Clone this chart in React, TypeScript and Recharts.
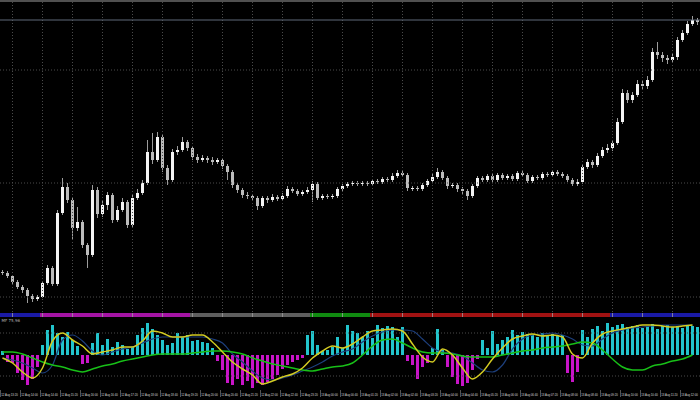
import React from 'react';
import { ComposedChart, Bar, Line, XAxis, YAxis, ReferenceLine, Cell } from 'recharts';

// ---- price candles (10-minute bars) ----
const firstOpen = 38;
const closes = [
  37, 34, 28, 23, 20, 14, 11, 13, 27, 42,
  26, 97, 123, 110, 82, 88, 65, 55, 120, 96,
  105, 115, 90, 100, 108, 85, 112, 117, 127, 158,
  150, 173, 142, 130, 158, 160, 168, 162, 153, 150,
  152, 150, 148, 150, 144, 138, 125, 120, 115, 114,
  112, 104, 112, 110, 113, 111, 114, 121, 119, 116,
  118, 120, 126, 112, 114, 113, 114, 121, 124, 126,
  127, 126, 127, 126, 129, 128, 131, 130, 134, 137,
  135, 122, 122, 121, 125, 129, 133, 138, 132, 124,
  125, 121, 119, 114, 124, 132, 130, 134, 130, 135,
  132, 134, 131, 137, 135, 129, 133, 132, 136, 135,
  138, 136, 134, 130, 126, 128, 143, 148, 145, 154,
  160, 162, 167, 188, 217, 210, 215, 226, 224, 230,
  258, 255, 252, 250, 253, 270, 277, 286, 290, 288,
];
const highs = [
  40, 39, 35, 30, 25, 22, 16, 15, 29, 45,
  44, 100, 132, 127, 112, 103, 90, 67, 125, 123,
  110, 118, 117, 104, 112, 110, 115, 121, 130, 170,
  177, 178, 175, 145, 161, 164, 173, 170, 164, 156,
  155, 154, 153, 152, 152, 146, 140, 127, 122, 118,
  116, 114, 114, 114, 116, 115, 117, 124, 123, 121,
  120, 123, 129, 128, 116, 116, 116, 123, 126, 128,
  129, 129, 129, 129, 131, 131, 133, 133, 137, 140,
  139, 137, 124, 124, 127, 131, 136, 142, 140, 134,
  127, 127, 123, 121, 126, 134, 134, 136, 136, 137,
  137, 136, 136, 139, 139, 137, 135, 135, 138, 138,
  140, 140, 138, 136, 132, 131, 146, 151, 150, 157,
  163, 166, 170, 192, 221, 220, 218, 230, 229, 234,
  262, 268, 258, 255, 256, 273, 280, 289, 294, 292,
];
const lows = [
  35, 32, 26, 21, 17, 7, 8, 9, 12, 25,
  24, 24, 95, 107, 70, 79, 62, 42, 53, 92,
  93, 100, 87, 88, 98, 82, 83, 110, 115, 125,
  146, 148, 138, 125, 128, 155, 158, 159, 150, 147,
  148, 147, 145, 146, 141, 130, 122, 117, 112, 111,
  109, 100, 102, 107, 108, 109, 109, 112, 117, 114,
  114, 116, 108, 110, 110, 111, 111, 112, 119, 122,
  124, 124, 124, 124, 124, 126, 126, 128, 128, 132,
  133, 119, 119, 119, 119, 123, 127, 131, 130, 121,
  122, 118, 116, 110, 112, 122, 128, 128, 128, 128,
  130, 130, 129, 129, 133, 127, 127, 130, 130, 133,
  133, 134, 132, 128, 124, 124, 126, 141, 142, 143,
  152, 157, 159, 165, 186, 207, 207, 213, 221, 221,
  228, 251, 248, 246, 247, 250, 268, 275, 284, 285,
];
const bidPrice = 290;
const priceGridLevels = [13, 127, 240];
const hourGridBars = [2, 8, 14, 20, 26, 32, 38, 44, 50, 56, 62, 68, 74, 80, 86, 92, 98, 104, 110, 116, 122, 128, 134];

// ---- oscillator sub-window ----
const histogram = [
  4, -7, -8, -18, -25, -30, -24, -12, 10, 25,
  30, 22, 18, 23, 15, 9, -9, -8, 12, 22,
  10, 16, 8, 13, 10, 6, 8, 20, 27, 32,
  26, 20, 15, 10, 12, 22, 18, 20, 14, 15,
  13, 12, 7, -6, -15, -28, -30, -24, -30, -26,
  -33, -28, -30, -27, -24, -20, -14, -10, -7, -5,
  -3, 20, 24, 10, 4, 5, 8, 18, 7, 30,
  24, 22, 18, 24, 17, 30, 27, 29, 28, 18,
  28, -6, -10, -24, -12, -8, 7, 26, 5, -12,
  -22, -29, -31, -28, -15, -4, 15, 7, 24, 11,
  15, 18, 25, 20, 23, 21, 20, 18, 22, 20,
  21, 19, 20, -18, -27, -17, 25, 18, 26, 29,
  24, 32, 28, 30, 31, 28, 29, 30, 27, 29,
  31, 26, 29, 30, 28, 29, 27, 30, 29, 28,
];
// lines sampled every second bar
const yellowLine = [
  -3, -8, -17, -23, -13, 14, 22, 15, 9, 1,
  3, 5, 8, 8, 14, 24, 22, 18, 18, 20,
  20, 13, 3, -7, -14, -20, -29, -26, -22, -19,
  -13, -3, 4, 9, 7, 11, 18, 24, 25, 26,
  24, 11, -2, -7, 6, 0, -13, -24, -17, -4,
  7, 16, 19, 21, 19, 20, 18, 1, -3, 12,
  21, 24, 26, 28, 30, 30, 29, 28, 29, 30,
];
const blueLine = [
  -3, -5, -8, -13, -18, -10, 15, 20, 14, 4,
  0, 3, 6, 8, 12, 16, 18, 18, 18, 18,
  18, 16, 12, 1, -7, -16, -23, -25, -23, -20,
  -16, -12, -7, -1, 3, 6, 13, 19, 23, 25,
  25, 24, 16, 7, 3, 2, -1, -8, -15, -17,
  -10, 6, 16, 20, 21, 22, 20, 16, 10, 9,
  16, 22, 25, 27, 28, 29, 30, 30, 30, 30,
];
const greenLine = [
  3, 3, 1, -3, -7, -10, -12, -15, -17, -14,
  -11, -9, -6, -4, -2, 0, 1, 1, 1, 2,
  3, 4, 4, 3, 1, -3, -6, -9, -11, -13,
  -15, -16, -14, -12, -11, -8, 0, 9, 15, 16,
  12, 7, 3, 2, 2, 1, -1, -2, -2, -2,
  0, 2, 4, 5, 7, 8, 9, 11, 13, 12,
  5, -4, -12, -15, -15, -11, -9, -6, -4, 0,
];
const oscGridLevels = [22, -21];
const oscLabel = 'MF 75,96';

// ---- trend strip ----
const trendSegments = [
  { from: 0, to: 7, state: 'strongUp' },
  { from: 8, to: 37, state: 'strongDown' },
  { from: 38, to: 61, state: 'neutral' },
  { from: 62, to: 73, state: 'up' },
  { from: 74, to: 121, state: 'down' },
  { from: 122, to: 139, state: 'strongUp' },
];

// ---- time axis labels (every 4th bar) ----
const timeLabels = [
  '12 Aug 13:20', '12 Aug 14:00', '12 Aug 14:40', '12 Aug 15:20', '12 Aug 16:00', '12 Aug 16:40',
  '12 Aug 17:20', '12 Aug 18:00', '12 Aug 18:40', '12 Aug 19:20', '12 Aug 20:00', '12 Aug 20:40',
  '12 Aug 21:20', '12 Aug 22:00', '12 Aug 22:40', '12 Aug 23:20', '13 Aug 00:00', '13 Aug 00:40',
  '13 Aug 01:20', '13 Aug 02:00', '13 Aug 02:40', '13 Aug 03:20', '13 Aug 04:00', '13 Aug 04:40',
  '13 Aug 05:20', '13 Aug 06:00', '13 Aug 06:40', '13 Aug 07:20', '13 Aug 08:00', '13 Aug 08:40',
  '13 Aug 09:20', '13 Aug 10:00', '13 Aug 10:40', '13 Aug 11:20', '13 Aug 12:00',
];
const labelStep = 4;

// ---- derived tables ----
const candleRows = closes.map((c, i) => ({
  idx: i,
  open: i === 0 ? firstOpen : closes[i - 1],
  close: c,
  high: highs[i],
  low: lows[i],
  range: [lows[i], highs[i]],
}));

const oscRows = histogram.map((h, i) => ({
  idx: i,
  hist: h,
  yellow: i % 2 === 0 ? yellowLine[i / 2] : null,
  blue: i % 2 === 0 ? blueLine[i / 2] : null,
  green: i % 2 === 0 ? greenLine[i / 2] : null,
}));

const stripRows = closes.map((_, i) => {
  const seg = trendSegments.find((s) => i >= s.from && i <= s.to);
  return { idx: i, on: 1, state: seg ? seg.state : 'neutral' };
});

const tickBars = timeLabels.map((_, j) => j * labelStep);
const labelByBar = new Map(timeLabels.map((t, j) => [j * labelStep, t]));

const stateColor: Record<string, string> = {
  strongUp: '#1a1aa6',
  strongDown: '#a414a4',
  neutral: '#5e5e5e',
  up: '#108a10',
  down: '#a01212',
};

const W = 700;
const M = { top: 0, right: 0, bottom: 0, left: 0 };
const GRID = '#4a4a4a';

const Candle = (props: any) => {
  const { x, y, width, height, payload } = props;
  if (!payload || x == null) return null;
  const { open, close, high, low } = payload;
  const top = height < 0 ? y + height : y;
  const h = Math.abs(height);
  const ratio = h / (high - low);
  const yOpen = top + (high - open) * ratio;
  const yClose = top + (high - close) * ratio;
  const cx = x + width / 2;
  const up = close >= open;
  const bTop = Math.min(yOpen, yClose);
  const bH = Math.max(1, Math.abs(yOpen - yClose));
  return (
    <g>
      <line x1={cx} x2={cx} y1={top} y2={top + h} stroke="#9c9c9c" strokeWidth={1} />
      <rect x={x} y={bTop} width={width} height={bH} fill={up ? '#f4f4f4' : '#bcbcbc'} />
    </g>
  );
};

const TimeTick = (props: any) => {
  const { x, y, payload } = props;
  const label = labelByBar.get(payload.value);
  if (!label) return null;
  return (
    <g>
      <line x1={x - 2} x2={x - 2} y1={y} y2={y + 7} stroke="#8a8a8a" strokeWidth={0.6} />
      <text x={x - 1.2} y={y + 6.4} fontSize={2.8} fill="#dcdcdc" fontFamily="Liberation Sans">
        {label}
      </text>
    </g>
  );
};

export default function App() {
  return (
    <div
      style={{
        position: 'fixed',
        left: 0,
        top: 0,
        width: W,
        height: 400,
        background: '#000',
        overflow: 'hidden',
        fontFamily: 'DejaVu Sans',
      }}
    >
      <div style={{ position: 'absolute', left: 0, top: 0, width: W, height: 2, background: '#505050' }} />

      {/* main price window */}
      <div style={{ position: 'absolute', left: 0, top: 0 }}>
        <ComposedChart width={W} height={312} data={candleRows} margin={M} barCategoryGap={0}>
          <XAxis dataKey="idx" hide />
          <YAxis hide domain={[-2, 310]} />
          {hourGridBars.map((b) => (
            <ReferenceLine key={'v' + b} x={b} stroke={GRID} strokeDasharray="1 2" />
          ))}
          {priceGridLevels.map((p) => (
            <ReferenceLine key={'h' + p} y={p} stroke={GRID} strokeDasharray="1 2" />
          ))}
          <ReferenceLine y={bidPrice} stroke="#5f6878" strokeWidth={1} />
          <Bar dataKey="range" barSize={3} shape={<Candle />} isAnimationActive={false} />
        </ComposedChart>
      </div>

      {/* trend strip */}
      <div style={{ position: 'absolute', left: 0, top: 313 }}>
        <ComposedChart width={W} height={4} data={stripRows} margin={M} barCategoryGap={0}>
          <XAxis dataKey="idx" hide />
          <YAxis hide domain={[0, 1]} />
          <Bar dataKey="on" isAnimationActive={false}>
            {stripRows.map((r) => (
              <Cell key={r.idx} fill={stateColor[r.state]} />
            ))}
          </Bar>
          {hourGridBars.map((b) => (
            <ReferenceLine key={'s' + b} x={b} stroke="#9a9a9a" strokeWidth={0.8} />
          ))}
        </ComposedChart>
      </div>

      {/* oscillator window */}
      <div style={{ position: 'absolute', left: 0, top: 317 }}>
        <ComposedChart width={W} height={83} data={oscRows} margin={M} barCategoryGap={0}>
          <XAxis
            dataKey="idx"
            ticks={tickBars}
            interval={0}
            tick={<TimeTick />}
            tickLine={false}
            axisLine={false}
            tickSize={0}
            tickMargin={0}
            height={10}
          />
          <YAxis hide domain={[-35, 38]} />
          {oscGridLevels.map((p) => (
            <ReferenceLine key={'o' + p} y={p} stroke={GRID} strokeDasharray="1 2" />
          ))}
          <Bar dataKey="hist" barSize={3} isAnimationActive={false}>
            {oscRows.map((r) => (
              <Cell key={r.idx} fill={r.hist >= 0 ? '#22c4cc' : '#c814c8'} />
            ))}
          </Bar>
          <Line dataKey="blue" type="monotone" stroke="#1d3f7c" strokeWidth={1.2} dot={false} connectNulls isAnimationActive={false} />
          <Line dataKey="green" type="monotone" stroke="#18c018" strokeWidth={1.5} dot={false} connectNulls isAnimationActive={false} />
          <Line dataKey="yellow" type="monotone" stroke="#d4cc22" strokeWidth={1.5} dot={false} connectNulls isAnimationActive={false} />
        </ComposedChart>
      </div>

      <svg style={{ position: 'absolute', left: 0, top: 317 }} width={40} height={8}>
        <text x={1.5} y={5} fontSize={4} fill="#b0b0b0" fontFamily="DejaVu Sans">
          {oscLabel}
        </text>
      </svg>
    </div>
  );
}
